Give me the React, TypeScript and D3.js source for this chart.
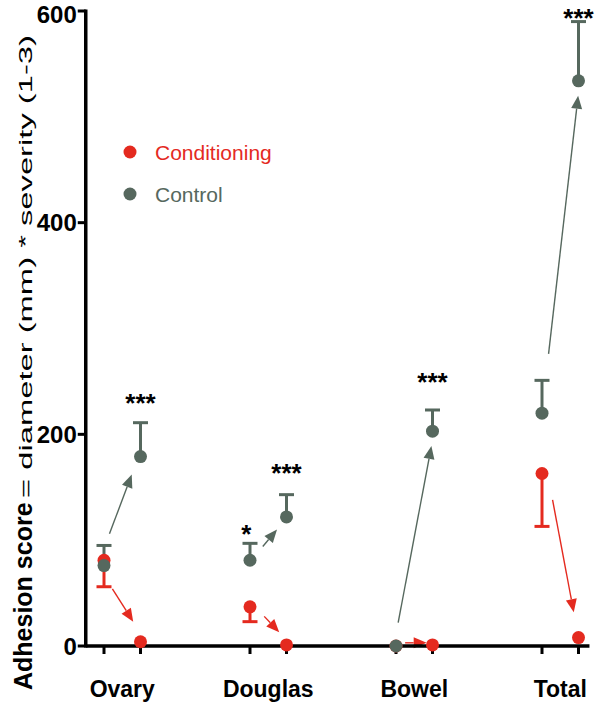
import React from "react";
import * as d3 from "d3";

const categories = ["Ovary", "Douglas", "Bowel", "Total"];
const yTicks = [0, 200, 400, 600];

// Conditioning (red)
const condBefore = [81, 37, 0, 163];
const condBeforeLow = [56, 23, 0, 113];
const condAfter = [4, 1, 1, 8];

// Control (grey)
const ctrlBefore = [76, 81, 0, 220];
const ctrlBeforeHigh = [95, 97, 0, 251];
const ctrlAfter = [179, 122, 203, 534];
const ctrlAfterHigh = [211, 143, 223, 590];

// significance marks
const sigBefore = ["", "*", "", ""];
const sigBeforeAt = [0, 111, 0, 0];
const sigAfter = ["***", "***", "***", "***"];
const sigAfterAt = [234, 168, 254, 598];

// arrows (offset within group, value)
const ctrlArrowX0 = [0.15, 0.35, 0.06, 0.18];
const ctrlArrowV0 = [106, 94, 22, 276];
const ctrlArrowX1 = [0.76, 0.74, 0.97, 0.99];
const ctrlArrowV1 = [162, 110, 189, 520];
const condArrowX0 = [0.23, 0.39, 0.25, 0.29];
const condArrowV0 = [54, 28, 3, 138];
const condArrowX1 = [0.8, 0.8, 0.84, 0.87];
const condArrowV1 = [23, 13, 3, 32];

const RED = "#E42A1F";
const GREY = "#56685E";
const FONT = "'Liberation Sans', Arial, Helvetica, sans-serif";

const W = 600;
const H = 703;

export default function App() {
  const x = d3.scaleLinear().domain([-0.5, 13.3]).range([85.75, 589.45]);
  const y = d3.scaleLinear().domain([0, 600]).range([646, 11]);
  const pos = (g: number, off: number) => x(g * 4 + off);

  const arrow = (x0: number, y0: number, x1: number, y1: number, color: string, key: string) => {
    const dx = x1 - x0;
    const dy = y1 - y0;
    const len = Math.sqrt(dx * dx + dy * dy);
    const ux = dx / len;
    const uy = dy / len;
    const hl = 13;
    const hw = 5.5;
    const bx = x1 - ux * hl;
    const by = y1 - uy * hl;
    const p = [
      [x1, y1],
      [bx - uy * hw, by + ux * hw],
      [bx + uy * hw, by - ux * hw],
    ];
    return (
      <g key={key}>
        <line x1={x0} y1={y0} x2={bx} y2={by} stroke={color} strokeWidth={1.4} />
        <polygon points={p.map((q) => q.join(",")).join(" ")} fill={color} />
      </g>
    );
  };

  const errBar = (cx: number, v0: number, v1: number, color: string, key: string) => (
    <g key={key}>
      <line x1={cx} x2={cx} y1={y(v0)} y2={y(v1)} stroke={color} strokeWidth={3} />
      <line x1={cx - 7.5} x2={cx + 7.5} y1={y(v1)} y2={y(v1)} stroke={color} strokeWidth={3} />
    </g>
  );

  const allPos: number[] = [];
  categories.forEach((_, i) => {
    allPos.push(i * 4, i * 4 + 1);
  });

  return (
    <svg width={W} height={H} style={{ position: "absolute", left: 0, top: 0, background: "#fff" }} fontFamily={FONT}>
      <rect width={W} height={H} fill="#fff" />
      {/* arrows */}
      {categories.map((_, i) =>
        arrow(pos(i, ctrlArrowX0[i]), y(ctrlArrowV0[i]), pos(i, ctrlArrowX1[i]), y(ctrlArrowV1[i]), GREY, "ca" + i)
      )}
      {categories.map((_, i) =>
        arrow(pos(i, condArrowX0[i]), y(condArrowV0[i]), pos(i, condArrowX1[i]), y(condArrowV1[i]), RED, "ra" + i)
      )}
      {/* error bars */}
      {categories.map((_, i) =>
        condBefore[i] > 0 ? errBar(pos(i, 0), condBefore[i], condBeforeLow[i], RED, "re" + i) : null
      )}
      {categories.map((_, i) =>
        ctrlBefore[i] > 0 ? errBar(pos(i, 0), ctrlBefore[i], ctrlBeforeHigh[i], GREY, "ce" + i) : null
      )}
      {categories.map((_, i) => errBar(pos(i, 1), ctrlAfter[i], ctrlAfterHigh[i], GREY, "cae" + i))}
      {/* axes */}
      <line x1={x(-0.5)} x2={x(13.3)} y1={y(0)} y2={y(0)} stroke="#000" strokeWidth={3.5} />
      <line x1={x(-0.5)} x2={x(-0.5)} y1={y(0) + 1.5} y2={y(600) - 1.5} stroke="#000" strokeWidth={3.5} />
      {yTicks.map((t) => (
        <g key={"yt" + t}>
          <line x1={x(-0.5) - 8} x2={x(-0.5)} y1={y(t)} y2={y(t)} stroke="#000" strokeWidth={3} />
          <text
            x={x(-0.5) - 9}
            y={Math.max(y(t), 14)}
            dominantBaseline="central"
            textAnchor="end"
            fontSize={24}
            fontWeight="bold"
            fill="#000"
          >
            {t}
          </text>
        </g>
      ))}
      {allPos.map((p) => (
        <line key={"xt" + p} x1={x(p)} x2={x(p)} y1={y(0)} y2={y(0) + 8} stroke="#000" strokeWidth={3} />
      ))}
      {categories.map((c, i) => (
        <text key={"xl" + c} x={pos(i, 0.5)} y={697} textAnchor="middle" fontSize={23} fontWeight="bold" fill="#000">
          {c}
        </text>
      ))}
      {/* points: conditioning then control on top */}
      {categories.map((_, i) => (
        <g key={"rp" + i}>
          <circle cx={pos(i, 0)} cy={y(condBefore[i])} r={6.5} fill={RED} />
          <circle cx={pos(i, 1)} cy={y(condAfter[i])} r={6.5} fill={RED} />
        </g>
      ))}
      {categories.map((_, i) => (
        <g key={"cp" + i}>
          <circle cx={pos(i, 0)} cy={y(ctrlBefore[i])} r={6.5} fill={GREY} />
          <circle cx={pos(i, 1)} cy={y(ctrlAfter[i])} r={6.5} fill={GREY} />
        </g>
      ))}
      {/* significance */}
      {categories.map((_, i) =>
        sigBefore[i] ? (
          <text key={"sb" + i} x={pos(i, -0.1)} y={y(sigBeforeAt[i]) + 14} textAnchor="middle" fontSize={26} fontWeight="bold" fill="#000">
            {sigBefore[i]}
          </text>
        ) : null
      )}
      {categories.map((_, i) => (
        <text key={"sa" + i} x={pos(i, 1)} y={y(sigAfterAt[i]) + 14} textAnchor="middle" fontSize={26} fontWeight="bold" fill="#000">
          {sigAfter[i]}
        </text>
      ))}
      {/* legend */}
      <circle cx={130} cy={152} r={6.5} fill={RED} />
      <text x={155} y={159.5} fontSize={21} fill={RED}>Conditioning</text>
      <circle cx={130} cy={194} r={6.5} fill={GREY} />
      <text x={155} y={201.5} fontSize={21} fill={GREY}>Control</text>
      {/* y label */}
      <g transform="translate(32,690) rotate(-90)">
        <text x={0} y={0} fontSize={25} fontWeight="bold" fill="#000">Adhesion score</text>
        <text x={192} y={0} fontSize={19} fill="#000" textLength={463} lengthAdjust="spacingAndGlyphs">
          = diameter (mm) * severity (1-3)
        </text>
      </g>
    </svg>
  );
}
